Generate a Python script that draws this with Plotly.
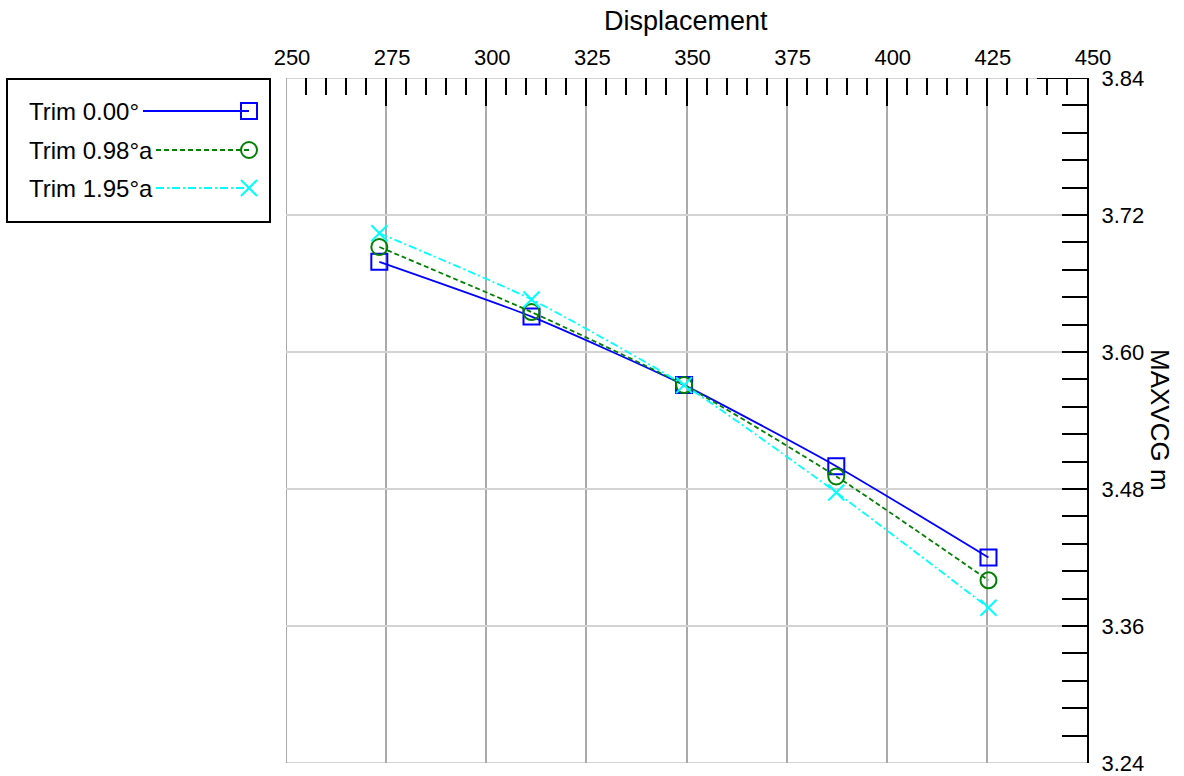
import plotly.graph_objects as go

W, H = 1184, 776

# ---- data ----
displacement = [273.3, 311.3, 349.4, 387.4, 425.4]
trim_000 = [3.679, 3.631, 3.571, 3.500, 3.420]
trim_098 = [3.692, 3.635, 3.571, 3.491, 3.400]
trim_195 = [3.704, 3.646, 3.571, 3.477, 3.376]
series_names = ["Trim 0.00°", "Trim 0.98°a", "Trim 1.95°a"]
x_ticks = [250, 275, 300, 325, 350, 375, 400, 425, 450]
y_ticks = [3.24, 3.36, 3.48, 3.60, 3.72, 3.84]
x_range = [250, 450]
y_range = [3.24, 3.84]

colors = ["#0000ff", "#008000", "#00ffff"]
dashes = ["solid", "5px,3px", "8px,3px,2px,3px"]
symbols = ["square-open", "circle-open", "x-thin-open"]
series = [trim_000, trim_098, trim_195]

FONT = "Liberation Sans, Arial, sans-serif"

def px(x):
    return x / W

def py(y):
    return 1 - y / H

fig = go.Figure()

for name, ys, c, d, s in zip(series_names, series, colors, dashes, symbols):
    fig.add_trace(go.Scatter(
        x=displacement, y=ys, mode="lines+markers", name=name,
        line=dict(color=c, width=1.8, dash=d, shape="spline", smoothing=0.6),
        marker=dict(symbol=s, size=16, color=c, line=dict(color=c, width=2)),
        showlegend=False, xaxis="x", yaxis="y",
    ))

# ---- custom legend (line + marker to the right of the text) ----
leg_rows = [111, 150, 188]
leg_line_start = [143, 156, 156]
leg_marker_x = 249
for name, c, d, s, ry, x0 in zip(series_names, colors, dashes, symbols, leg_rows, leg_line_start):
    fig.add_trace(go.Scatter(
        x=[x0, leg_marker_x], y=[ry, ry], mode="lines",
        line=dict(color=c, width=1.8, dash=d), showlegend=False,
        hoverinfo="skip", xaxis="x2", yaxis="y2",
    ))
    fig.add_trace(go.Scatter(
        x=[leg_marker_x], y=[ry], mode="markers",
        marker=dict(symbol=s, size=16, color=c, line=dict(color=c, width=2)),
        showlegend=False, hoverinfo="skip", xaxis="x2", yaxis="y2",
    ))
    fig.add_annotation(x=27, y=ry, xref="x2", yref="y2", text=name,
                       showarrow=False, xanchor="left", yanchor="middle",
                       font=dict(family=FONT, size=24, color="black"))

fig.add_shape(type="rect", xref="paper", yref="paper",
              x0=px(7), x1=px(270), y0=py(222), y1=py(79),
              line=dict(color="black", width=2), fillcolor="rgba(0,0,0,0)")

# edge grid lines (plotly drops grid lines lying on the plot-area border)
fig.add_shape(type="line", xref="x", yref="y", layer="below",
              x0=x_range[0], x1=x_range[1], y0=y_range[0], y1=y_range[0],
              line=dict(color="#d3d3d3", width=2))
fig.add_shape(type="line", xref="x", yref="y", layer="below",
              x0=x_range[0], x1=x_range[1], y0=y_range[1], y1=y_range[1],
              line=dict(color="#d3d3d3", width=2))
fig.add_shape(type="line", xref="x", yref="y", layer="below",
              x0=x_range[0], x1=x_range[0], y0=y_range[0], y1=y_range[1],
              line=dict(color="#aaaaaa", width=2))
# short dark segment on the top border near the right corner
fig.add_shape(type="line", xref="x", yref="y",
              x0=437.5, x1=x_range[1], y0=y_range[1], y1=y_range[1],
              line=dict(color="black", width=2))

fig.update_layout(
    width=W, height=H, autosize=False, showlegend=False,
    margin=dict(l=0, r=0, t=0, b=0, pad=0, autoexpand=False),
    paper_bgcolor="white", plot_bgcolor="white",
    font=dict(family=FONT, size=22, color="black"),
    xaxis=dict(
        domain=[px(286), px(1087)], range=x_range, side="top",
        tickvals=x_ticks, ticktext=[str(v) for v in x_ticks],
        ticks="inside", ticklen=28, tickwidth=2, tickcolor="black",
        ticklabelstandoff=8, ticklabelshift=6, automargin=False,
        minor=dict(dtick=5, tick0=250, ticks="inside", ticklen=17,
                   tickwidth=1.5, tickcolor="black", showgrid=False),
        showgrid=True, gridcolor="#aaaaaa", gridwidth=2,
        showline=False, zeroline=False, anchor="y",
        tickfont=dict(size=22),
    ),
    yaxis=dict(
        domain=[py(763), py(78)], range=y_range, side="right",
        tickvals=y_ticks, ticktext=[f"{v:.2f}" for v in y_ticks],
        ticks="inside", ticklen=25, tickwidth=2, tickcolor="black",
        ticklabelstandoff=8, automargin=False,
        minor=dict(dtick=0.024, tick0=3.24, ticks="inside", ticklen=25,
                   tickwidth=2, tickcolor="black", showgrid=False),
        showgrid=True, gridcolor="#d3d3d3", gridwidth=2,
        showline=True, linecolor="black", linewidth=2,
        zeroline=False, anchor="x", tickfont=dict(size=22),
    ),
    xaxis2=dict(domain=[0, px(280)], range=[0, 280], visible=False,
                anchor="y2", fixedrange=True, automargin=False),
    yaxis2=dict(domain=[py(230), py(70)], range=[230, 70], visible=False,
                anchor="x2", fixedrange=True, automargin=False),
)

# axis titles
fig.add_annotation(x=px(686), y=py(21), xref="paper", yref="paper",
                   text="Displacement", showarrow=False,
                   xanchor="center", yanchor="middle",
                   font=dict(family=FONT, size=27, color="black"))
fig.add_annotation(x=px(1160), y=py(420), xref="paper", yref="paper",
                   text="MAXVCG m", showarrow=False, textangle=90,
                   xanchor="center", yanchor="middle",
                   font=dict(family=FONT, size=26, color="black"))

fig.write_html("out.html")
